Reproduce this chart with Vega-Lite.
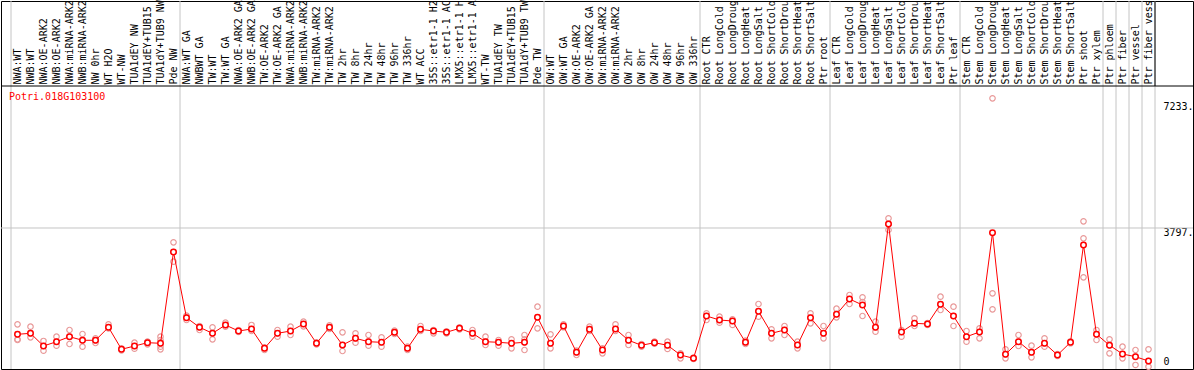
{
  "$schema": "https://vega.github.io/schema/vega-lite/v6.json",
  "autosize": {"type": "none"},
  "padding": {"left": 1, "top": 1, "right": 1, "bottom": 1},
  "width": 1192,
  "height": 368,
  "config": {"view": {"stroke": "black", "strokeWidth": 1}, "font": "DejaVu Sans Mono"},
  "datasets": {
    "means": [
      {"s": "NWA:WT", "v": 887, "g": 1},
      {"s": "NWB:WT", "v": 914, "g": 0},
      {"s": "NWA:OE-ARK2", "v": 567, "g": 0},
      {"s": "NWB:OE-ARK2", "v": 684, "g": 0},
      {"s": "NWA:miRNA-ARK2", "v": 821, "g": 0},
      {"s": "NWB:miRNA-ARK2", "v": 723, "g": 0},
      {"s": "NW 0hr", "v": 723, "g": 0},
      {"s": "WT H2O", "v": 1079, "g": 0},
      {"s": "WT-NW", "v": 476, "g": 0},
      {"s": "TUA1dEY NW", "v": 567, "g": 0},
      {"s": "TUA1dEY+TUB15 NW", "v": 657, "g": 0},
      {"s": "TUA1dY+TUB9 NW", "v": 641, "g": 0},
      {"s": "Pde NW", "v": 3140, "g": 0},
      {"s": "NWA:WT GA", "v": 1341, "g": 1},
      {"s": "NWBWT GA", "v": 1079, "g": 0},
      {"s": "TW:WT", "v": 914, "g": 0},
      {"s": "TW:WT GA", "v": 1142, "g": 0},
      {"s": "NWA:OE-ARK2 GA", "v": 977, "g": 0},
      {"s": "NWB:OE-ARK2 GA", "v": 1032, "g": 0},
      {"s": "TW:OE-ARK2", "v": 504, "g": 0},
      {"s": "TW:OE-ARK2 GA", "v": 914, "g": 0},
      {"s": "NWA:miRNA-ARK2 GA", "v": 977, "g": 0},
      {"s": "NWB:miRNA-ARK2 GA", "v": 1169, "g": 0},
      {"s": "TW:miRNA-ARK2", "v": 641, "g": 0},
      {"s": "TW:miRNA-ARK2 GA", "v": 1079, "g": 0},
      {"s": "TW 2hr", "v": 594, "g": 0},
      {"s": "TW 8hr", "v": 777, "g": 0},
      {"s": "TW 24hr", "v": 684, "g": 0},
      {"s": "TW 48hr", "v": 668, "g": 0},
      {"s": "TW 96hr", "v": 942, "g": 0},
      {"s": "TW 336hr", "v": 504, "g": 0},
      {"s": "WT ACC", "v": 1024, "g": 0},
      {"s": "35S::etr1-1 H2O", "v": 977, "g": 0},
      {"s": "35S::etr1-1 ACC", "v": 942, "g": 0},
      {"s": "LMX5::etr1-1 H2O", "v": 1051, "g": 0},
      {"s": "LMX5::etr1-1 ACC", "v": 914, "g": 0},
      {"s": "WT-TW", "v": 684, "g": 0},
      {"s": "TUA1dEY TW", "v": 668, "g": 0},
      {"s": "TUA1dEY+TUB15 TW", "v": 641, "g": 0},
      {"s": "TUA1dY+TUB9 TW", "v": 668, "g": 0},
      {"s": "Pde TW", "v": 1352, "g": 0},
      {"s": "OW:WT", "v": 641, "g": 1},
      {"s": "OW:WT GA", "v": 1114, "g": 0},
      {"s": "OW:OE-ARK2", "v": 394, "g": 0},
      {"s": "OW:OE-ARK2 GA", "v": 1024, "g": 0},
      {"s": "OW:miRNA-ARK2", "v": 457, "g": 0},
      {"s": "OW:miRNA-ARK2 GA", "v": 1032, "g": 0},
      {"s": "OW 2hr", "v": 723, "g": 0},
      {"s": "OW 8hr", "v": 586, "g": 0},
      {"s": "OW 24hr", "v": 657, "g": 0},
      {"s": "OW 48hr", "v": 586, "g": 0},
      {"s": "OW 96hr", "v": 320, "g": 0},
      {"s": "OW 336hr", "v": 230, "g": 0},
      {"s": "Root CTR", "v": 1388, "g": 1},
      {"s": "Root LongCold", "v": 1278, "g": 0},
      {"s": "Root LongDrought", "v": 1251, "g": 0},
      {"s": "Root LongHeat", "v": 668, "g": 0},
      {"s": "Root LongSalt", "v": 1517, "g": 0},
      {"s": "Root ShortCold", "v": 914, "g": 0},
      {"s": "Root ShortDrought", "v": 1005, "g": 0},
      {"s": "Root ShortHeat", "v": 594, "g": 0},
      {"s": "Root ShortSalt", "v": 1341, "g": 0},
      {"s": "Ptr root", "v": 914, "g": 0},
      {"s": "Leaf CTR", "v": 1434, "g": 1},
      {"s": "Leaf LongCold", "v": 1853, "g": 0},
      {"s": "Leaf LongDrought", "v": 1689, "g": 0},
      {"s": "Leaf LongHeat", "v": 1079, "g": 0},
      {"s": "Leaf LongSalt", "v": 3906, "g": 0},
      {"s": "Leaf ShortCold", "v": 950, "g": 0},
      {"s": "Leaf ShortDrought", "v": 1188, "g": 0},
      {"s": "Leaf ShortHeat", "v": 1169, "g": 0},
      {"s": "Leaf ShortSalt", "v": 1708, "g": 0},
      {"s": "Ptr leaf", "v": 1388, "g": 0},
      {"s": "Stem CTR", "v": 821, "g": 1},
      {"s": "Stem LongCold", "v": 950, "g": 0},
      {"s": "Stem LongDrought", "v": 3668, "g": 0},
      {"s": "Stem LongHeat", "v": 339, "g": 0},
      {"s": "Stem LongSalt", "v": 684, "g": 0},
      {"s": "Stem ShortCold", "v": 394, "g": 0},
      {"s": "Stem ShortDrought", "v": 641, "g": 0},
      {"s": "Stem ShortHeat", "v": 320, "g": 0},
      {"s": "Stem ShortSalt", "v": 668, "g": 0},
      {"s": "Ptr shoot", "v": 3332, "g": 0},
      {"s": "Ptr xylem", "v": 887, "g": 0},
      {"s": "Ptr phloem", "v": 586, "g": 1},
      {"s": "Ptr fiber", "v": 348, "g": 1},
      {"s": "Ptr vessel", "v": 274, "g": 1},
      {"s": "Ptr fiber vessel", "v": 156, "g": 1}
    ],
    "reps": [
      {"s": "NWA:WT", "v": 1161}, {"s": "NWA:WT", "v": 750}, {"s": "NWA:WT", "v": 731},
      {"s": "NWB:WT", "v": 1095}, {"s": "NWB:WT", "v": 914}, {"s": "NWB:WT", "v": 805},
      {"s": "NWA:OE-ARK2", "v": 704}, {"s": "NWA:OE-ARK2", "v": 567}, {"s": "NWA:OE-ARK2", "v": 438},
      {"s": "NWB:OE-ARK2", "v": 821}, {"s": "NWB:OE-ARK2", "v": 684}, {"s": "NWB:OE-ARK2", "v": 575},
      {"s": "NWA:miRNA-ARK2", "v": 1005}, {"s": "NWA:miRNA-ARK2", "v": 821}, {"s": "NWA:miRNA-ARK2", "v": 621},
      {"s": "NWB:miRNA-ARK2", "v": 895}, {"s": "NWB:miRNA-ARK2", "v": 731}, {"s": "NWB:miRNA-ARK2", "v": 548},
      {"s": "NW 0hr", "v": 777}, {"s": "NW 0hr", "v": 723}, {"s": "NW 0hr", "v": 649},
      {"s": "WT H2O", "v": 1161}, {"s": "WT H2O", "v": 1079}, {"s": "WT H2O", "v": 1051},
      {"s": "WT-NW", "v": 504}, {"s": "WT-NW", "v": 476}, {"s": "WT-NW", "v": 449},
      {"s": "TUA1dEY NW", "v": 657}, {"s": "TUA1dEY NW", "v": 567}, {"s": "TUA1dEY NW", "v": 493},
      {"s": "TUA1dEY+TUB15 NW", "v": 684}, {"s": "TUA1dEY+TUB15 NW", "v": 676}, {"s": "TUA1dEY+TUB15 NW", "v": 613},
      {"s": "TUA1dY+TUB9 NW", "v": 821}, {"s": "TUA1dY+TUB9 NW", "v": 731}, {"s": "TUA1dY+TUB9 NW", "v": 548}, {"s": "TUA1dY+TUB9 NW", "v": 476},
      {"s": "Pde NW", "v": 3405}, {"s": "Pde NW", "v": 3140}, {"s": "Pde NW", "v": 2874},
      {"s": "NWA:WT GA", "v": 1396}, {"s": "NWA:WT GA", "v": 1341}, {"s": "NWA:WT GA", "v": 1278},
      {"s": "NWBWT GA", "v": 1114}, {"s": "NWBWT GA", "v": 1079}, {"s": "NWBWT GA", "v": 1005},
      {"s": "TW:WT", "v": 1079}, {"s": "TW:WT", "v": 914}, {"s": "TW:WT", "v": 750},
      {"s": "TW:WT GA", "v": 1205}, {"s": "TW:WT GA", "v": 1142}, {"s": "TW:WT GA", "v": 1095},
      {"s": "NWA:OE-ARK2 GA", "v": 1005}, {"s": "NWA:OE-ARK2 GA", "v": 977}, {"s": "NWA:OE-ARK2 GA", "v": 950},
      {"s": "NWB:OE-ARK2 GA", "v": 1142}, {"s": "NWB:OE-ARK2 GA", "v": 1032}, {"s": "NWB:OE-ARK2 GA", "v": 977},
      {"s": "TW:OE-ARK2", "v": 531}, {"s": "TW:OE-ARK2", "v": 504}, {"s": "TW:OE-ARK2", "v": 457},
      {"s": "TW:OE-ARK2 GA", "v": 1005}, {"s": "TW:OE-ARK2 GA", "v": 914}, {"s": "TW:OE-ARK2 GA", "v": 821},
      {"s": "NWA:miRNA-ARK2 GA", "v": 1095}, {"s": "NWA:miRNA-ARK2 GA", "v": 977}, {"s": "NWA:miRNA-ARK2 GA", "v": 868},
      {"s": "NWB:miRNA-ARK2 GA", "v": 1232}, {"s": "NWB:miRNA-ARK2 GA", "v": 1169}, {"s": "NWB:miRNA-ARK2 GA", "v": 1106},
      {"s": "TW:miRNA-ARK2", "v": 668}, {"s": "TW:miRNA-ARK2", "v": 641}, {"s": "TW:miRNA-ARK2", "v": 613},
      {"s": "TW:miRNA-ARK2 GA", "v": 1133}, {"s": "TW:miRNA-ARK2 GA", "v": 1079}, {"s": "TW:miRNA-ARK2 GA", "v": 1032},
      {"s": "TW 2hr", "v": 942}, {"s": "TW 2hr", "v": 594}, {"s": "TW 2hr", "v": 430},
      {"s": "TW 8hr", "v": 914}, {"s": "TW 8hr", "v": 777}, {"s": "TW 8hr", "v": 657},
      {"s": "TW 24hr", "v": 868}, {"s": "TW 24hr", "v": 684}, {"s": "TW 24hr", "v": 575},
      {"s": "TW 48hr", "v": 805}, {"s": "TW 48hr", "v": 668}, {"s": "TW 48hr", "v": 548},
      {"s": "TW 96hr", "v": 986}, {"s": "TW 96hr", "v": 942}, {"s": "TW 96hr", "v": 895},
      {"s": "TW 336hr", "v": 548}, {"s": "TW 336hr", "v": 504}, {"s": "TW 336hr", "v": 457},
      {"s": "WT ACC", "v": 1114}, {"s": "WT ACC", "v": 1024}, {"s": "WT ACC", "v": 977},
      {"s": "35S::etr1-1 H2O", "v": 1005}, {"s": "35S::etr1-1 H2O", "v": 977}, {"s": "35S::etr1-1 H2O", "v": 914},
      {"s": "35S::etr1-1 ACC", "v": 969}, {"s": "35S::etr1-1 ACC", "v": 942}, {"s": "35S::etr1-1 ACC", "v": 914},
      {"s": "LMX5::etr1-1 H2O", "v": 1079}, {"s": "LMX5::etr1-1 H2O", "v": 1051}, {"s": "LMX5::etr1-1 H2O", "v": 1024},
      {"s": "LMX5::etr1-1 ACC", "v": 1005}, {"s": "LMX5::etr1-1 ACC", "v": 914}, {"s": "LMX5::etr1-1 ACC", "v": 821},
      {"s": "WT-TW", "v": 821}, {"s": "WT-TW", "v": 684}, {"s": "WT-TW", "v": 594},
      {"s": "TUA1dEY TW", "v": 731}, {"s": "TUA1dEY TW", "v": 668}, {"s": "TUA1dEY TW", "v": 575},
      {"s": "TUA1dEY+TUB15 TW", "v": 750}, {"s": "TUA1dEY+TUB15 TW", "v": 641}, {"s": "TUA1dEY+TUB15 TW", "v": 504},
      {"s": "TUA1dY+TUB9 TW", "v": 868}, {"s": "TUA1dY+TUB9 TW", "v": 750}, {"s": "TUA1dY+TUB9 TW", "v": 668}, {"s": "TUA1dY+TUB9 TW", "v": 457},
      {"s": "Pde TW", "v": 1643}, {"s": "Pde TW", "v": 1352}, {"s": "Pde TW", "v": 1051},
      {"s": "OW:WT", "v": 887}, {"s": "OW:WT", "v": 641}, {"s": "OW:WT", "v": 504},
      {"s": "OW:WT GA", "v": 1161}, {"s": "OW:WT GA", "v": 1114}, {"s": "OW:WT GA", "v": 1079},
      {"s": "OW:OE-ARK2", "v": 438}, {"s": "OW:OE-ARK2", "v": 394}, {"s": "OW:OE-ARK2", "v": 320},
      {"s": "OW:OE-ARK2 GA", "v": 1095}, {"s": "OW:OE-ARK2 GA", "v": 1024}, {"s": "OW:OE-ARK2 GA", "v": 977},
      {"s": "OW:miRNA-ARK2", "v": 504}, {"s": "OW:miRNA-ARK2", "v": 457}, {"s": "OW:miRNA-ARK2", "v": 367},
      {"s": "OW:miRNA-ARK2 GA", "v": 1161}, {"s": "OW:miRNA-ARK2 GA", "v": 1032}, {"s": "OW:miRNA-ARK2 GA", "v": 977},
      {"s": "OW 2hr", "v": 868}, {"s": "OW 2hr", "v": 723}, {"s": "OW 2hr", "v": 594},
      {"s": "OW 8hr", "v": 621}, {"s": "OW 8hr", "v": 586}, {"s": "OW 8hr", "v": 548},
      {"s": "OW 24hr", "v": 684}, {"s": "OW 24hr", "v": 657}, {"s": "OW 24hr", "v": 630},
      {"s": "OW 48hr", "v": 684}, {"s": "OW 48hr", "v": 586}, {"s": "OW 48hr", "v": 485},
      {"s": "OW 96hr", "v": 367}, {"s": "OW 96hr", "v": 320}, {"s": "OW 96hr", "v": 230},
      {"s": "OW 336hr", "v": 246}, {"s": "OW 336hr", "v": 230}, {"s": "OW 336hr", "v": 211},
      {"s": "Root CTR", "v": 1462}, {"s": "Root CTR", "v": 1388}, {"s": "Root CTR", "v": 1278},
      {"s": "Root LongCold", "v": 1369}, {"s": "Root LongCold", "v": 1278}, {"s": "Root LongCold", "v": 1205},
      {"s": "Root LongDrought", "v": 1298}, {"s": "Root LongDrought", "v": 1251}, {"s": "Root LongDrought", "v": 1142},
      {"s": "Root LongHeat", "v": 712}, {"s": "Root LongHeat", "v": 668}, {"s": "Root LongHeat", "v": 621},
      {"s": "Root LongSalt", "v": 1716}, {"s": "Root LongSalt", "v": 1517}, {"s": "Root LongSalt", "v": 1369},
      {"s": "Root ShortCold", "v": 1024}, {"s": "Root ShortCold", "v": 914}, {"s": "Root ShortCold", "v": 777},
      {"s": "Root ShortDrought", "v": 1114}, {"s": "Root ShortDrought", "v": 1005}, {"s": "Root ShortDrought", "v": 868},
      {"s": "Root ShortHeat", "v": 684}, {"s": "Root ShortHeat", "v": 594}, {"s": "Root ShortHeat", "v": 504},
      {"s": "Root ShortSalt", "v": 1462}, {"s": "Root ShortSalt", "v": 1341}, {"s": "Root ShortSalt", "v": 1188},
      {"s": "Ptr root", "v": 1114}, {"s": "Ptr root", "v": 914}, {"s": "Ptr root", "v": 777},
      {"s": "Leaf CTR", "v": 1588}, {"s": "Leaf CTR", "v": 1434}, {"s": "Leaf CTR", "v": 1352},
      {"s": "Leaf LongCold", "v": 1963}, {"s": "Leaf LongCold", "v": 1853}, {"s": "Leaf LongCold", "v": 1716},
      {"s": "Leaf LongDrought", "v": 1900}, {"s": "Leaf LongDrought", "v": 1771}, {"s": "Leaf LongDrought", "v": 1388},
      {"s": "Leaf LongHeat", "v": 1232}, {"s": "Leaf LongHeat", "v": 1079}, {"s": "Leaf LongHeat", "v": 958},
      {"s": "Leaf LongSalt", "v": 4062}, {"s": "Leaf LongSalt", "v": 3906}, {"s": "Leaf LongSalt", "v": 3742},
      {"s": "Leaf ShortCold", "v": 1005}, {"s": "Leaf ShortCold", "v": 950}, {"s": "Leaf ShortCold", "v": 821},
      {"s": "Leaf ShortDrought", "v": 1325}, {"s": "Leaf ShortDrought", "v": 1188}, {"s": "Leaf ShortDrought", "v": 1114},
      {"s": "Leaf ShortHeat", "v": 1196}, {"s": "Leaf ShortHeat", "v": 1169}, {"s": "Leaf ShortHeat", "v": 1142},
      {"s": "Leaf ShortSalt", "v": 1916}, {"s": "Leaf ShortSalt", "v": 1708}, {"s": "Leaf ShortSalt", "v": 1552},
      {"s": "Ptr leaf", "v": 1643}, {"s": "Ptr leaf", "v": 1388}, {"s": "Ptr leaf", "v": 1114},
      {"s": "Stem CTR", "v": 977}, {"s": "Stem CTR", "v": 821}, {"s": "Stem CTR", "v": 684},
      {"s": "Stem LongCold", "v": 1051}, {"s": "Stem LongCold", "v": 950}, {"s": "Stem LongCold", "v": 777},
      {"s": "Stem LongDrought", "v": 7347}, {"s": "Stem LongDrought", "v": 2009}, {"s": "Stem LongDrought", "v": 1571},
      {"s": "Stem LongHeat", "v": 476}, {"s": "Stem LongHeat", "v": 339}, {"s": "Stem LongHeat", "v": 230},
      {"s": "Stem LongSalt", "v": 868}, {"s": "Stem LongSalt", "v": 684}, {"s": "Stem LongSalt", "v": 567},
      {"s": "Stem ShortCold", "v": 575}, {"s": "Stem ShortCold", "v": 394}, {"s": "Stem ShortCold", "v": 257},
      {"s": "Stem ShortDrought", "v": 777}, {"s": "Stem ShortDrought", "v": 641}, {"s": "Stem ShortDrought", "v": 548},
      {"s": "Stem ShortHeat", "v": 348}, {"s": "Stem ShortHeat", "v": 320}, {"s": "Stem ShortHeat", "v": 293},
      {"s": "Stem ShortSalt", "v": 695}, {"s": "Stem ShortSalt", "v": 668}, {"s": "Stem ShortSalt", "v": 641},
      {"s": "Ptr shoot", "v": 3980}, {"s": "Ptr shoot", "v": 3515}, {"s": "Ptr shoot", "v": 2447},
      {"s": "Ptr xylem", "v": 1005}, {"s": "Ptr xylem", "v": 887}, {"s": "Ptr xylem", "v": 731},
      {"s": "Ptr phloem", "v": 750}, {"s": "Ptr phloem", "v": 586}, {"s": "Ptr phloem", "v": 367},
      {"s": "Ptr fiber", "v": 548}, {"s": "Ptr fiber", "v": 348}, {"s": "Ptr fiber", "v": 230},
      {"s": "Ptr vessel", "v": 457}, {"s": "Ptr vessel", "v": 274}, {"s": "Ptr vessel", "v": 47},
      {"s": "Ptr fiber vessel", "v": 476}, {"s": "Ptr fiber vessel", "v": 156}, {"s": "Ptr fiber vessel", "v": 0}
    ]
  },
  "layer": [
    {
      "data": {"name": "means"},
      "transform": [{"filter": "datum.g == 1"}],
      "mark": {"type": "rule", "color": "#c4c4c4", "strokeWidth": 1},
      "encoding": {
        "x": {
          "field": "s", "type": "ordinal", "bandPosition": 0,
          "scale": {
            "type": "band", "paddingInner": 0, "paddingOuter": 0, "range": [10, 1154],
            "domain": ["NWA:WT","NWB:WT","NWA:OE-ARK2","NWB:OE-ARK2","NWA:miRNA-ARK2","NWB:miRNA-ARK2","NW 0hr","WT H2O","WT-NW","TUA1dEY NW","TUA1dEY+TUB15 NW","TUA1dY+TUB9 NW","Pde NW","NWA:WT GA","NWBWT GA","TW:WT","TW:WT GA","NWA:OE-ARK2 GA","NWB:OE-ARK2 GA","TW:OE-ARK2","TW:OE-ARK2 GA","NWA:miRNA-ARK2 GA","NWB:miRNA-ARK2 GA","TW:miRNA-ARK2","TW:miRNA-ARK2 GA","TW 2hr","TW 8hr","TW 24hr","TW 48hr","TW 96hr","TW 336hr","WT ACC","35S::etr1-1 H2O","35S::etr1-1 ACC","LMX5::etr1-1 H2O","LMX5::etr1-1 ACC","WT-TW","TUA1dEY TW","TUA1dEY+TUB15 TW","TUA1dY+TUB9 TW","Pde TW","OW:WT","OW:WT GA","OW:OE-ARK2","OW:OE-ARK2 GA","OW:miRNA-ARK2","OW:miRNA-ARK2 GA","OW 2hr","OW 8hr","OW 24hr","OW 48hr","OW 96hr","OW 336hr","Root CTR","Root LongCold","Root LongDrought","Root LongHeat","Root LongSalt","Root ShortCold","Root ShortDrought","Root ShortHeat","Root ShortSalt","Ptr root","Leaf CTR","Leaf LongCold","Leaf LongDrought","Leaf LongHeat","Leaf LongSalt","Leaf ShortCold","Leaf ShortDrought","Leaf ShortHeat","Leaf ShortSalt","Ptr leaf","Stem CTR","Stem LongCold","Stem LongDrought","Stem LongHeat","Stem LongSalt","Stem ShortCold","Stem ShortDrought","Stem ShortHeat","Stem ShortSalt","Ptr shoot","Ptr xylem","Ptr phloem","Ptr fiber","Ptr vessel","Ptr fiber vessel"]
          },
          "axis": {
            "orient": "top", "title": null, "labelAngle": 270, "labelAlign": "left", "labelBaseline": "middle",
            "labelPadding": -83, "ticks": false, "domain": false, "grid": false, "labelOverlap": false,
            "labelFont": "DejaVu Sans Mono", "labelFontSize": 10, "labelColor": "black", "labelLimit": 300
          }
        }
      }
    },
    {
      "data": {"name": "means"},
      "transform": [{"filter": "datum.s == 'Ptr fiber vessel'"}],
      "mark": {"type": "rule", "color": "#c4c4c4", "strokeWidth": 1},
      "encoding": {
        "x": {"field": "s", "type": "ordinal", "bandPosition": 1}
      }
    },
    {
      "data": {"name": "means"},
      "transform": [{"filter": "datum.s == 'Ptr fiber vessel'"}],
      "mark": {"type": "rule", "color": "black", "strokeWidth": 1},
      "encoding": {
        "x": {"field": "s", "type": "ordinal", "bandPosition": 1},
        "y": {"datum": 7684, "type": "quantitative"},
        "y2": {"datum": 10011}
      }
    },
    {
      "data": {"values": [{}]},
      "mark": {"type": "rule", "color": "#c4c4c4", "strokeWidth": 1},
      "encoding": {
        "y": {"datum": 3797, "type": "quantitative"}
      }
    },
    {
      "data": {"values": [{}]},
      "mark": {"type": "rule", "color": "black", "strokeWidth": 1},
      "encoding": {
        "y": {"datum": 7684, "type": "quantitative"}
      }
    },
    {
      "data": {"name": "reps"},
      "mark": {"type": "point", "shape": "circle", "filled": false, "stroke": "#e99a9a", "strokeWidth": 1.2, "size": 30, "opacity": 1},
      "encoding": {
        "x": {"field": "s", "type": "ordinal"},
        "y": {
          "field": "v", "type": "quantitative",
          "scale": {"domain": [-63, 10011], "nice": false, "zero": false},
          "axis": {
            "orient": "right", "title": null, "values": [0, 3797, 7233], "domain": false, "ticks": false, "grid": false,
            "labelPadding": -30, "labelAlign": "left", "labelBaseline": "middle",
            "labelOffset": {"condition": {"test": "datum.value == 0", "value": -5}, "value": 4.5},
            "labelExpr": "datum.value == 0 ? '0' : datum.value + '.'",
            "labelFont": "DejaVu Sans Mono", "labelFontSize": 10, "labelColor": "black", "labelFlush": false
          }
        }
      }
    },
    {
      "data": {"name": "means"},
      "mark": {"type": "line", "color": "#ff0000", "strokeWidth": 1},
      "encoding": {
        "x": {"field": "s", "type": "ordinal"},
        "y": {"field": "v", "type": "quantitative"}
      }
    },
    {
      "data": {"name": "means"},
      "mark": {"type": "point", "shape": "circle", "filled": false, "fill": "white", "fillOpacity": 1, "stroke": "#ff0000", "strokeWidth": 1.5, "size": 30, "opacity": 1},
      "encoding": {
        "x": {"field": "s", "type": "ordinal"},
        "y": {"field": "v", "type": "quantitative"}
      }
    },
    {
      "data": {"values": [{}]},
      "mark": {"type": "text", "text": "Potri.018G103100", "color": "#ff0000", "font": "DejaVu Sans Mono", "fontSize": 10, "align": "left", "baseline": "middle", "dx": -2},
      "encoding": {
        "x": {"datum": "NWA:WT", "type": "ordinal", "bandPosition": 0},
        "y": {"datum": 7383, "type": "quantitative"}
      }
    }
  ]
}
